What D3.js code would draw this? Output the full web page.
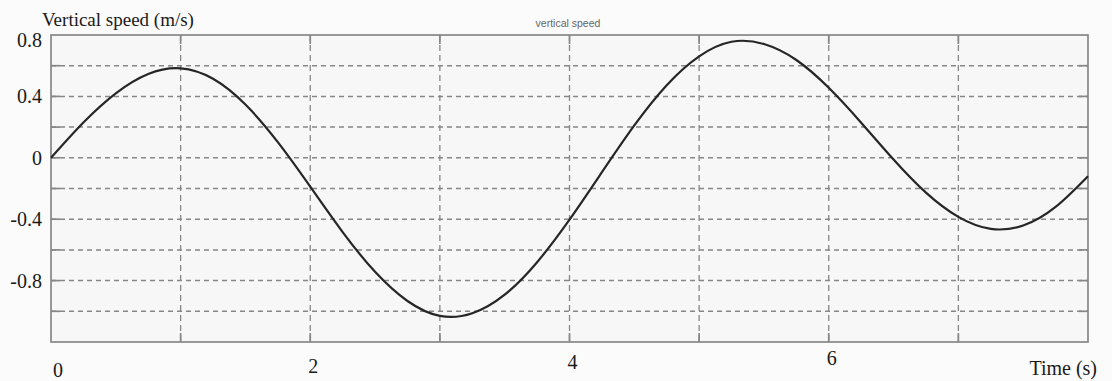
<!DOCTYPE html>
<html>
<head>
<meta charset="utf-8">
<script src="https://cdn.jsdelivr.net/npm/d3@7"></script>
<style>
  html, body { margin: 0; padding: 0; background: #fbfbfb; }
  svg { display: block; }
</style>
</head>
<body>
<svg id="chart" width="1112" height="381"></svg>
<script>
// Vertical speed of the body over time (s, m/s), one sample every quarter second
const times  = [0, 0.25, 0.5, 0.75, 1.0, 1.25, 1.5, 1.75, 2.0, 2.25, 2.5, 2.75, 3.0, 3.25, 3.5, 3.75, 4.0,
                4.25, 4.5, 4.75, 5.0, 5.25, 5.5, 5.75, 6.0, 6.25, 6.5, 6.75, 7.0, 7.25, 7.5, 7.75, 8.0];
const speeds = [0, 0.23, 0.42, 0.546, 0.583, 0.515, 0.347, 0.102, -0.188, -0.484, -0.743, -0.933, -1.03,
                -1.013, -0.892, -0.68, -0.403, -0.094, 0.211, 0.473, 0.661, 0.756, 0.741, 0.637, 0.456, 0.229,
                -0.011, -0.227, -0.385, -0.463, -0.441, -0.32, -0.12];

const xTickLabels = [0, 2, 4, 6];
const yTickLabels = [0.8, 0.4, 0, -0.4, -0.8];
const xGrid = [1, 2, 3, 4, 5, 6, 7];
const yGrid = [0.6, 0.4, 0.2, 0, -0.2, -0.4, -0.6, -0.8, -1.0];

const titleText = "vertical speed";
const yAxisTitle = "Vertical speed (m/s)";
const xAxisTitle = "Time (s)";

const svg = d3.select("#chart");
const plot = { left: 51, right: 1088, top: 35, bottom: 342 };

const x = d3.scaleLinear().domain([0, 8]).range([plot.left, plot.right]);
const y = d3.scaleLinear().domain([-1.2, 0.8]).range([plot.bottom, plot.top]);

const gridColor = "#878787";
const serif = "'Liberation Serif', 'DejaVu Serif', serif";

// plot background
svg.append("rect")
  .attr("x", plot.left).attr("y", plot.top)
  .attr("width", plot.right - plot.left).attr("height", plot.bottom - plot.top)
  .attr("fill", "#f7f7f7");

// dashed grid
svg.append("g").selectAll("line").data(yGrid).join("line")
  .attr("x1", plot.left).attr("x2", plot.right)
  .attr("y1", d => y(d)).attr("y2", d => y(d))
  .attr("stroke", gridColor).attr("stroke-width", 1.5)
  .attr("stroke-dasharray", "5,4");

svg.append("g").selectAll("line").data(xGrid).join("line")
  .attr("x1", d => x(d)).attr("x2", d => x(d))
  .attr("y1", plot.top).attr("y2", plot.bottom)
  .attr("stroke", gridColor).attr("stroke-width", 1.3)
  .attr("stroke-dasharray", "6,4");

// inward tick marks on all four sides
const tickLen = 9;
const ticks = svg.append("g").attr("stroke", gridColor).attr("stroke-width", 1.7);
yGrid.forEach(v => {
  ticks.append("line").attr("x1", plot.left).attr("x2", plot.left + tickLen).attr("y1", y(v)).attr("y2", y(v));
  ticks.append("line").attr("x1", plot.right - tickLen).attr("x2", plot.right).attr("y1", y(v)).attr("y2", y(v));
});
xGrid.forEach(t => {
  ticks.append("line").attr("x1", x(t)).attr("x2", x(t)).attr("y1", plot.top).attr("y2", plot.top + tickLen);
  ticks.append("line").attr("x1", x(t)).attr("x2", x(t)).attr("y1", plot.bottom - tickLen).attr("y2", plot.bottom);
});

// frame
svg.append("rect")
  .attr("x", plot.left).attr("y", plot.top)
  .attr("width", plot.right - plot.left).attr("height", plot.bottom - plot.top)
  .attr("fill", "none").attr("stroke", gridColor).attr("stroke-width", 1.7);

// speed curve
const line = d3.line()
  .x((d, i) => x(times[i]))
  .y(d => y(d))
  .curve(d3.curveNatural);

svg.append("path")
  .datum(speeds)
  .attr("d", line)
  .attr("fill", "none")
  .attr("stroke", "#262626")
  .attr("stroke-width", 2.2)
  .attr("stroke-linejoin", "round");

// y tick labels
svg.append("g").selectAll("text").data(yTickLabels).join("text")
  .attr("x", 42)
  .attr("y", d => Math.max(y(d), plot.top + 5))
  .attr("text-anchor", "end")
  .attr("dominant-baseline", "central")
  .attr("font-family", serif).attr("font-size", 20).attr("fill", "#1a1a1a")
  .text(d => String(d));

// x tick labels, set slightly lower toward the left
svg.append("g").selectAll("text").data(xTickLabels).join("text")
  .attr("x", d => d === 0 ? x(d) + 2 : x(d) + 3)
  .attr("y", d => 377 - d * 2)
  .attr("text-anchor", d => d === 0 ? "start" : "middle")
  .attr("font-family", serif).attr("font-size", 20).attr("fill", "#1a1a1a")
  .text(d => d);

// axis titles
svg.append("text")
  .attr("x", 42).attr("y", 26)
  .attr("font-family", serif).attr("font-size", 19).attr("fill", "#1a1a1a")
  .text(yAxisTitle);

svg.append("text")
  .attr("x", 1097).attr("y", 375)
  .attr("text-anchor", "end")
  .attr("font-family", serif).attr("font-size", 20).attr("fill", "#1a1a1a")
  .text(xAxisTitle);

// chart title
svg.append("text")
  .attr("x", 568).attr("y", 27)
  .attr("text-anchor", "middle")
  .attr("font-family", "'Liberation Sans', Arial, sans-serif").attr("font-size", 10.5).attr("fill", "#666")
  .text(titleText);
</script>
</body>
</html>
